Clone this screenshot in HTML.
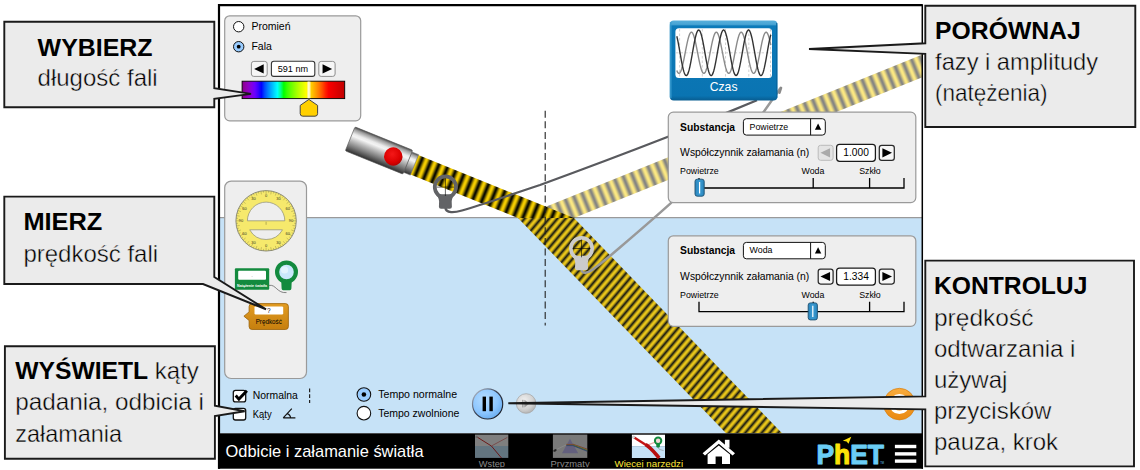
<!DOCTYPE html>
<html lang="pl"><head><meta charset="utf-8"><title>Odbicie i załamanie światła</title>
<style>
html,body{margin:0;padding:0;background:#fff;}
body{width:1140px;height:470px;overflow:hidden;}
svg{display:block;}
text{font-family:"Liberation Sans", sans-serif;}
.b{font-weight:bold;}
.c24{font-size:24px;fill:#000;stroke:#ebebeb;stroke-width:0.42px;}
.c24.b,.c24 .b{stroke:none;fill:#000;}
</style></head><body>
<svg width="1140" height="470" viewBox="0 0 1140 470">
<defs>
<linearGradient id="gi" gradientUnits="userSpaceOnUse" x1="427.021" y1="158.565" x2="435.264" y2="161.895" spreadMethod="repeat"><stop offset="0.0000" stop-color="#f6cf00"/><stop offset="0.0417" stop-color="#f3cc00"/><stop offset="0.0833" stop-color="#e9c400"/><stop offset="0.1250" stop-color="#dab700"/><stop offset="0.1667" stop-color="#c5a600"/><stop offset="0.2083" stop-color="#ac9100"/><stop offset="0.2500" stop-color="#917a00"/><stop offset="0.2917" stop-color="#746200"/><stop offset="0.3333" stop-color="#574a00"/><stop offset="0.3750" stop-color="#3b3300"/><stop offset="0.4167" stop-color="#231f00"/><stop offset="0.4583" stop-color="#111000"/><stop offset="0.5000" stop-color="#080800"/><stop offset="0.5417" stop-color="#111000"/><stop offset="0.5833" stop-color="#231f00"/><stop offset="0.6250" stop-color="#3b3300"/><stop offset="0.6667" stop-color="#574a00"/><stop offset="0.7083" stop-color="#746200"/><stop offset="0.7500" stop-color="#917a00"/><stop offset="0.7917" stop-color="#ac9100"/><stop offset="0.8333" stop-color="#c5a600"/><stop offset="0.8750" stop-color="#dab700"/><stop offset="0.9167" stop-color="#e9c400"/><stop offset="0.9583" stop-color="#f3cc00"/><stop offset="1.0000" stop-color="#f6cf00"/></linearGradient>
<linearGradient id="gr" gradientUnits="userSpaceOnUse" x1="610.521" y1="180.635" x2="618.764" y2="177.305" spreadMethod="repeat"><stop offset="0.0000" stop-color="#f8d000"/><stop offset="0.0417" stop-color="#f4cd00"/><stop offset="0.0833" stop-color="#eac400"/><stop offset="0.1250" stop-color="#d9b600"/><stop offset="0.1667" stop-color="#c3a400"/><stop offset="0.2083" stop-color="#a98e00"/><stop offset="0.2500" stop-color="#8c7600"/><stop offset="0.2917" stop-color="#6e5c00"/><stop offset="0.3333" stop-color="#504300"/><stop offset="0.3750" stop-color="#342d00"/><stop offset="0.4167" stop-color="#1d1900"/><stop offset="0.4583" stop-color="#0d0b00"/><stop offset="0.5000" stop-color="#050500"/><stop offset="0.5417" stop-color="#0d0b00"/><stop offset="0.5833" stop-color="#1d1900"/><stop offset="0.6250" stop-color="#342d00"/><stop offset="0.6667" stop-color="#504300"/><stop offset="0.7083" stop-color="#6e5c00"/><stop offset="0.7500" stop-color="#8c7600"/><stop offset="0.7917" stop-color="#a98e00"/><stop offset="0.8333" stop-color="#c3a400"/><stop offset="0.8750" stop-color="#d9b600"/><stop offset="0.9167" stop-color="#eac400"/><stop offset="0.9583" stop-color="#f4cd00"/><stop offset="1.0000" stop-color="#f8d000"/></linearGradient>
<linearGradient id="gt" gradientUnits="userSpaceOnUse" x1="599.200" y1="271.000" x2="603.982" y2="275.043" spreadMethod="repeat"><stop offset="0.0000" stop-color="#ecc81a"/><stop offset="0.0417" stop-color="#eac61a"/><stop offset="0.0833" stop-color="#e3c11a"/><stop offset="0.1250" stop-color="#d9b819"/><stop offset="0.1667" stop-color="#caac19"/><stop offset="0.2083" stop-color="#b89d18"/><stop offset="0.2500" stop-color="#a38c17"/><stop offset="0.2917" stop-color="#8c7916"/><stop offset="0.3333" stop-color="#746515"/><stop offset="0.3750" stop-color="#5b5014"/><stop offset="0.4167" stop-color="#433c13"/><stop offset="0.4583" stop-color="#2d2a13"/><stop offset="0.5000" stop-color="#1c1c12"/><stop offset="0.5417" stop-color="#2d2a13"/><stop offset="0.5833" stop-color="#433c13"/><stop offset="0.6250" stop-color="#5b5014"/><stop offset="0.6667" stop-color="#746515"/><stop offset="0.7083" stop-color="#8c7916"/><stop offset="0.7500" stop-color="#a38c17"/><stop offset="0.7917" stop-color="#b89d18"/><stop offset="0.8333" stop-color="#caac19"/><stop offset="0.8750" stop-color="#d9b819"/><stop offset="0.9167" stop-color="#e3c11a"/><stop offset="0.9583" stop-color="#eac61a"/><stop offset="1.0000" stop-color="#ecc81a"/></linearGradient>
<linearGradient id="spec" x1="0" x2="1" y1="0" y2="0"><stop offset="0.0000" stop-color="rgb(135,0,135)"/><stop offset="0.0312" stop-color="rgb(144,0,167)"/><stop offset="0.0625" stop-color="rgb(143,0,197)"/><stop offset="0.0938" stop-color="rgb(130,0,227)"/><stop offset="0.1250" stop-color="rgb(106,0,255)"/><stop offset="0.1562" stop-color="rgb(61,0,255)"/><stop offset="0.1875" stop-color="rgb(0,0,255)"/><stop offset="0.2188" stop-color="rgb(0,70,255)"/><stop offset="0.2500" stop-color="rgb(0,123,255)"/><stop offset="0.2812" stop-color="rgb(0,169,255)"/><stop offset="0.3125" stop-color="rgb(0,213,255)"/><stop offset="0.3438" stop-color="rgb(0,255,255)"/><stop offset="0.3750" stop-color="rgb(0,255,146)"/><stop offset="0.4062" stop-color="rgb(0,255,0)"/><stop offset="0.4375" stop-color="rgb(54,255,0)"/><stop offset="0.4688" stop-color="rgb(94,255,0)"/><stop offset="0.5000" stop-color="rgb(129,255,0)"/><stop offset="0.5312" stop-color="rgb(163,255,0)"/><stop offset="0.5625" stop-color="rgb(195,255,0)"/><stop offset="0.5938" stop-color="rgb(225,255,0)"/><stop offset="0.6250" stop-color="rgb(255,255,0)"/><stop offset="0.6562" stop-color="rgb(255,223,0)"/><stop offset="0.6875" stop-color="rgb(255,190,0)"/><stop offset="0.7188" stop-color="rgb(255,155,0)"/><stop offset="0.7500" stop-color="rgb(255,119,0)"/><stop offset="0.7812" stop-color="rgb(255,79,0)"/><stop offset="0.8125" stop-color="rgb(255,33,0)"/><stop offset="0.8438" stop-color="rgb(249,0,0)"/><stop offset="0.8750" stop-color="rgb(238,0,0)"/><stop offset="0.9062" stop-color="rgb(227,0,0)"/><stop offset="0.9375" stop-color="rgb(215,0,0)"/><stop offset="0.9688" stop-color="rgb(204,0,0)"/><stop offset="1.0000" stop-color="rgb(192,0,0)"/></linearGradient>
<linearGradient id="lasb" x1="0" x2="0" y1="0" y2="1">
<stop offset="0" stop-color="#474747"/><stop offset="0.1" stop-color="#9c9c9c"/><stop offset="0.27" stop-color="#eaeaea"/><stop offset="0.36" stop-color="#f4f4f4"/><stop offset="0.52" stop-color="#c2c2c2"/><stop offset="0.76" stop-color="#7c7c7c"/><stop offset="0.93" stop-color="#464646"/><stop offset="1" stop-color="#2e2e2e"/></linearGradient>
<radialGradient id="redb" cx="0.4" cy="0.4" r="0.7"><stop offset="0" stop-color="#f41818"/><stop offset="0.65" stop-color="#dc0000"/><stop offset="1" stop-color="#a80000"/></radialGradient>
<linearGradient id="czas" x1="0" x2="0" y1="0" y2="1"><stop offset="0" stop-color="#58b0dc"/><stop offset="0.05" stop-color="#48a4d4"/><stop offset="0.07" stop-color="#0c7ab9"/><stop offset="0.94" stop-color="#0a74b2"/><stop offset="1" stop-color="#085c90"/></linearGradient>
<linearGradient id="velg" x1="0" x2="0" y1="0" y2="1"><stop offset="0" stop-color="#e29c22"/><stop offset="1" stop-color="#c67f0e"/></linearGradient>
<linearGradient id="resetg" x1="0" x2="0" y1="0" y2="1"><stop offset="0" stop-color="#f9ab3c"/><stop offset="1" stop-color="#ea8a12"/></linearGradient>
<linearGradient id="pstroke" x1="0" x2="1" y1="0" y2="1"><stop offset="0" stop-color="#c8d4e4"/><stop offset="0.45" stop-color="#3a4254"/><stop offset="1" stop-color="#10141c"/></linearGradient>
<radialGradient id="pauseg" cx="0.4" cy="0.35" r="0.75"><stop offset="0" stop-color="#b5dcff"/><stop offset="0.6" stop-color="#8cc6ff"/><stop offset="1" stop-color="#5fa5ea"/></radialGradient>
<radialGradient id="stepg" cx="0.4" cy="0.35" r="0.75"><stop offset="0" stop-color="#f0f0f0"/><stop offset="0.6" stop-color="#d2d2d2"/><stop offset="1" stop-color="#a8a8a8"/></radialGradient>
<linearGradient id="thumbg" x1="0" x2="1" y1="0" y2="0"><stop offset="0" stop-color="#2a86bd"/><stop offset="0.5" stop-color="#3a9ad2"/><stop offset="1" stop-color="#2a86bd"/></linearGradient>
<clipPath id="navclip"><rect x="218" y="433" width="705" height="34.2"/></clipPath>
<clipPath id="simclip"><rect x="219.0" y="5.2" width="703.3" height="428.1"/></clipPath>
</defs>

<rect x="219.0" y="5.2" width="703.3" height="428.1" fill="#fff"/>
<rect x="219.0" y="218.0" width="703.3" height="215.3" fill="#c6e2f7"/>
<line x1="219.0" x2="922.3" y1="217.7" y2="217.7" stroke="#9a9a9a" stroke-width="1.2"/>
<g clip-path="url(#simclip)">
<polygon points="518.00,218.00 574.00,218.00 1130.31,-6.76 1074.31,-6.76" fill="url(#gr)" opacity="0.49"/>
<polygon points="518.00,218.00 574.00,218.00 418.23,155.06 410.37,174.51" fill="url(#gi)"/>
<polygon points="518.00,218.00 574.00,218.00 921.52,577.49 865.52,577.49" fill="url(#gt)"/>
<line x1="545.2" x2="545.2" y1="110.7" y2="325.5" stroke="#222" stroke-width="1.1" stroke-dasharray="7 3.6"/>
<path d="M445.4,207 C445.4,214 455,212.5 462,210.5 C482,205 505,196.5 540,185 C585,168.6 630,151.6 668,136.8 C690,128 730,111.2 757,100.2" fill="none" stroke="#595a5e" stroke-width="2.3"/>
<path d="M581.8,270 C581.8,274.4 588,273 592,270 C599,265 604,261 609,256.8 C641,229.4 701,180 764,111.5 L780.5,88" fill="none" stroke="#999" stroke-width="2.5"/>
<g transform="translate(445.4,187.1)"><path d="M-9.6,7.2 C-7.4,9.6 -6.4,12 -6.3,14.5 L-6.5,19.6 Q-6.5,21.7 -4.4,21.7 L4.4,21.7 Q6.5,21.7 6.5,19.6 L6.3,14.5 C6.4,12 7.4,9.6 9.6,7.2 Z" fill="#626366"/><circle r="10.65" fill="none" stroke="#626366" stroke-width="3.6999999999999993"/><line x1="-8.8" x2="8.8" y1="0" y2="0" stroke="#000" stroke-width="0.6"/><line y1="-8.8" y2="8.8" x1="0" x2="0" stroke="#000" stroke-width="0.6"/></g>
<g transform="translate(581.5,248.5)"><path d="M-9.6,7.2 C-7.4,9.6 -6.4,12 -6.3,14.5 L-6.5,19.6 Q-6.5,21.7 -4.4,21.7 L4.4,21.7 Q6.5,21.7 6.5,19.6 L6.3,14.5 C6.4,12 7.4,9.6 9.6,7.2 Z" fill="#cbcbcb"/><circle r="10.65" fill="none" stroke="#cbcbcb" stroke-width="3.6999999999999993"/><line x1="-8.8" x2="8.8" y1="0" y2="0" stroke="#000" stroke-width="0.6"/><line y1="-8.8" y2="8.8" x1="0" x2="0" stroke="#000" stroke-width="0.6"/></g>
<g transform="translate(414.30,164.79) rotate(22.0)">
<rect x="-7.2" y="-11" width="7.4" height="22" fill="url(#lasb)" stroke="#666" stroke-width="0.5"/>
<rect x="-69.2" y="-12.9" width="62.2" height="25.8" rx="1.2" fill="url(#lasb)" stroke="#555" stroke-width="0.6"/>
<circle cx="-22.6" cy="0.2" r="9.2" fill="url(#redb)"/>
</g>
</g>
<rect x="779" y="86.4" width="2.6" height="7.6" rx="1.3" fill="#8a8a8a" transform="rotate(18 780 90)"/>
<rect x="669.8" y="20.4" width="107.6" height="80.2" rx="4" fill="url(#czas)"/>
<rect x="669.8" y="22" width="1.8" height="76" fill="#3a9cd0" opacity="0.8"/><rect x="776" y="23" width="1.4" height="75" fill="#08649c" opacity="0.8"/>
<rect x="675.4" y="28.3" width="96.6" height="49.7" rx="3.5" fill="#fff"/>
<g stroke="#c8c8c8" stroke-width="0.8" stroke-dasharray="2.5 2">
<line x1="676" x2="772" y1="52.8" y2="52.8"/>
<line x1="679.6" x2="679.6" y1="29" y2="77.5"/>
<line x1="702.3" x2="702.3" y1="29" y2="77.5"/>
<line x1="725.5" x2="725.5" y1="29" y2="77.5"/>
<line x1="748.8" x2="748.8" y1="29" y2="77.5"/>
<line x1="770.5" x2="770.5" y1="29" y2="77.5"/>
</g>
<polyline points="676.80,70.44 677.30,71.64 677.80,72.54 678.30,73.12 678.80,73.39 679.30,73.32 679.80,72.93 680.30,72.22 680.80,71.20 681.30,69.88 681.80,68.30 682.30,66.47 682.80,64.42 683.30,62.19 683.80,59.80 684.30,57.31 684.80,54.75 685.30,52.15 685.80,49.56 686.30,47.03 686.80,44.59 687.30,42.28 687.80,40.13 688.30,38.19 688.80,36.48 689.30,35.03 689.80,33.86 690.30,32.99 690.80,32.44 691.30,32.21 691.80,32.30 692.30,32.73 692.80,33.47 693.30,34.52 693.80,35.86 694.30,37.47 694.80,39.33 695.30,41.40 695.80,43.65 696.30,46.04 696.80,48.54 697.30,51.11 697.80,53.71 698.30,56.29 698.80,58.82 699.30,61.25 699.80,63.55 700.30,65.67 700.80,67.59 701.30,69.28 701.80,70.70 702.30,71.84 702.80,72.68 703.30,73.20 703.80,73.40 704.30,73.27 704.80,72.81 705.30,72.04 705.80,70.96 706.30,69.59 706.80,67.95 707.30,66.07 707.80,63.99 708.30,61.72 708.80,59.31 709.30,56.80 709.80,54.23 710.30,51.63 710.80,49.05 711.30,46.53 711.80,44.11 712.30,41.83 712.80,39.73 713.30,37.83 713.80,36.16 714.30,34.77 714.80,33.66 715.30,32.85 715.80,32.36 716.30,32.20 716.80,32.36 717.30,32.85 717.80,33.66 718.30,34.77 718.80,36.16 719.30,37.83 719.80,39.73 720.30,41.83 720.80,44.11 721.30,46.53 721.80,49.05 722.30,51.63 722.80,54.23 723.30,56.80 723.80,59.31 724.30,61.72 724.80,63.99 725.30,66.07 725.80,67.95 726.30,69.59 726.80,70.96 727.30,72.04 727.80,72.81 728.30,73.27 728.80,73.40 729.30,73.20 729.80,72.68 730.30,71.84 730.80,70.70 731.30,69.28 731.80,67.59 732.30,65.67 732.80,63.55 733.30,61.25 733.80,58.82 734.30,56.29 734.80,53.71 735.30,51.11 735.80,48.54 736.30,46.04 736.80,43.65 737.30,41.40 737.80,39.33 738.30,37.47 738.80,35.86 739.30,34.52 739.80,33.47 740.30,32.73 740.80,32.30 741.30,32.21 741.80,32.44 742.30,32.99 742.80,33.86 743.30,35.03 743.80,36.48 744.30,38.19 744.80,40.13 745.30,42.28 745.80,44.59 746.30,47.03 746.80,49.56 747.30,52.15 747.80,54.75 748.30,57.31 748.80,59.80 749.30,62.19 749.80,64.42 750.30,66.47 750.80,68.30 751.30,69.88 751.80,71.20 752.30,72.22 752.80,72.93 753.30,73.32 753.80,73.39 754.30,73.12 754.80,72.54 755.30,71.64 755.80,70.44 756.30,68.96 756.80,67.23 757.30,65.26 757.80,63.10 758.30,60.77 758.80,58.32 759.30,55.78 759.80,53.19 760.30,50.60 760.80,48.04 761.30,45.55 761.80,43.18 762.30,40.97 762.80,38.94 763.30,37.13 763.80,35.57 764.30,34.29 764.80,33.30 765.30,32.62 765.80,32.26 766.30,32.23 766.80,32.52 767.30,33.14 767.80,34.07 768.30,35.29 768.80,36.80 769.30,38.56 769.80,40.54 770.30,42.73 770.80,45.07" fill="none" stroke="#8a8a8a" stroke-width="1.4" stroke-linejoin="round"/>
<polyline points="676.80,36.23 677.30,38.33 677.80,40.66 678.30,43.19 678.80,45.86 679.30,48.65 679.80,51.51 680.30,54.38 680.80,57.23 681.30,60.01 681.80,62.67 682.30,65.18 682.80,67.49 683.30,69.57 683.80,71.38 684.30,72.90 684.80,74.09 685.30,74.95 685.80,75.45 686.30,75.60 686.80,75.38 687.30,74.80 687.80,73.88 688.30,72.62 688.80,71.04 689.30,69.17 689.80,67.05 690.30,64.69 690.80,62.15 691.30,59.46 691.80,56.66 692.30,53.81 692.80,50.93 693.30,48.09 693.80,45.32 694.30,42.67 694.80,40.18 695.30,37.89 695.80,35.84 696.30,34.05 696.80,32.57 697.30,31.41 697.80,30.59 698.30,30.12 698.80,30.01 699.30,30.26 699.80,30.87 700.30,31.83 700.80,33.13 701.30,34.73 701.80,36.63 702.30,38.78 702.80,41.15 703.30,43.71 703.80,46.41 704.30,49.22 704.80,52.08 705.30,54.95 705.80,57.79 706.30,60.55 706.80,63.19 707.30,65.66 707.80,67.93 708.30,69.95 708.80,71.71 709.30,73.16 709.80,74.29 710.30,75.08 710.80,75.51 711.30,75.58 711.80,75.29 712.30,74.65 712.80,73.65 713.30,72.33 713.80,70.69 714.30,68.77 714.80,66.59 715.30,64.20 715.80,61.62 716.30,58.91 716.80,56.10 717.30,53.23 717.80,50.36 718.30,47.53 718.80,44.78 719.30,42.16 719.80,39.70 720.30,37.46 720.80,35.46 721.30,33.73 721.80,32.31 722.30,31.22 722.80,30.46 723.30,30.07 723.80,30.03 724.30,30.35 724.80,31.04 725.30,32.07 725.80,33.42 726.30,35.09 726.80,37.04 727.30,39.24 727.80,41.65 728.30,44.24 728.80,46.97 729.30,49.79 729.80,52.66 730.30,55.53 730.80,58.35 731.30,61.09 731.80,63.70 732.30,66.13 732.80,68.35 733.30,70.33 733.80,72.02 734.30,73.41 734.80,74.48 735.30,75.19 735.80,75.55 736.30,75.55 736.80,75.19 737.30,74.48 737.80,73.41 738.30,72.02 738.80,70.33 739.30,68.35 739.80,66.13 740.30,63.70 740.80,61.09 741.30,58.35 741.80,55.53 742.30,52.66 742.80,49.79 743.30,46.97 743.80,44.24 744.30,41.65 744.80,39.24 745.30,37.04 745.80,35.09 746.30,33.42 746.80,32.07 747.30,31.04 747.80,30.35 748.30,30.03 748.80,30.07 749.30,30.46 749.80,31.22 750.30,32.31 750.80,33.73 751.30,35.46 751.80,37.46 752.30,39.70 752.80,42.16 753.30,44.78 753.80,47.53 754.30,50.36 754.80,53.23 755.30,56.10 755.80,58.91 756.30,61.62 756.80,64.20 757.30,66.59 757.80,68.77 758.30,70.69 758.80,72.33 759.30,73.65 759.80,74.65 760.30,75.29 760.80,75.58 761.30,75.51 761.80,75.08 762.30,74.29 762.80,73.16 763.30,71.71 763.80,69.95 764.30,67.93 764.80,65.66 765.30,63.19 765.80,60.55 766.30,57.79 766.80,54.95 767.30,52.08 767.80,49.22 768.30,46.41 768.80,43.71 769.30,41.15 769.80,38.78 770.30,36.63 770.80,34.73" fill="none" stroke="#333" stroke-width="1.4" stroke-linejoin="round"/>
<text x="723.6" y="91" font-size="12.2" fill="#fff" text-anchor="middle">Czas</text>
<rect x="224.7" y="15.8" width="136" height="105" rx="5" fill="#eeeeee" stroke="#9a9a9a" stroke-width="1.2"/>
<circle cx="238.7" cy="26.7" r="5.2" fill="#fff" stroke="#111" stroke-width="1"/>
<text x="251.4" y="30" font-size="10.5" fill="#000">Promień</text>
<circle cx="238.7" cy="46.7" r="5.2" fill="#99ccff" stroke="#111" stroke-width="1"/><circle cx="238.7" cy="46.7" r="1.9" fill="#000"/>
<text x="251.4" y="50.3" font-size="10.5" fill="#000">Fala</text>
<rect x="251.4" y="61.4" width="15.8" height="15" rx="2.4" fill="#f6f6f6" stroke="#8e8e8e" stroke-width="1"/><polygon points="254.10,68.90 263.70,64.30 263.70,73.50" fill="#000"/>
<rect x="271.4" y="61.2" width="43.4" height="15.2" rx="2.5" fill="#fff" stroke="#333" stroke-width="1.1"/>
<text x="292.9" y="71.8" font-size="9.1" fill="#000" text-anchor="middle">591 nm</text>
<rect x="318.8" y="61.4" width="16.3" height="15" rx="2.4" fill="#f6f6f6" stroke="#8e8e8e" stroke-width="1"/><polygon points="332.15,68.90 322.55,64.30 322.55,73.50" fill="#000"/>
<rect x="242.1" y="81.2" width="102.6" height="17.4" fill="url(#spec)" stroke="#000" stroke-width="0.9"/>
<rect x="307.2" y="81.6" width="3.4" height="16.6" fill="#fff" opacity="0.55"/><rect x="308.4" y="81.6" width="1" height="16.6" fill="#fff" opacity="0.9"/>
<path d="M308.9,99.4 L317.6,105.4 L317.6,113.6 Q317.6,116.2 315,116.2 L302.8,116.2 Q300.2,116.2 300.2,113.6 L300.2,105.4 Z" fill="#ffd000" stroke="#444" stroke-width="1" stroke-linejoin="round"/>
<rect x="224.7" y="181.1" width="81.8" height="197.4" rx="6.5" fill="#eeeeee" stroke="#9a9a9a" stroke-width="1.2"/>
<circle cx="266.1" cy="220.8" r="30.2" fill="#f6e96c" stroke="#8e8e7a" stroke-width="1"/>
<path d="M247.40000000000003,220.8 A18.7,18.7 0 0 1 284.8,220.8 Z" fill="#eeeeee" stroke="#8c8c70" stroke-width="0.7"/>
<path d="M249.71,229.8 A18.7,18.7 0 0 0 282.49,229.8 Z" fill="#eeeeee" stroke="#8c8c70" stroke-width="0.7"/>
<path d="M292.90,220.80 L296.10,220.80 M294.19,223.26 L295.99,223.41 M292.49,225.45 L295.64,226.01 M293.34,228.10 L295.08,228.56 M291.28,229.97 L294.29,231.06 M291.66,232.72 L293.29,233.48 M289.31,234.20 L292.08,235.80 M289.20,236.97 L290.67,238.01 M286.63,238.03 L289.08,240.08 M286.04,240.74 L287.31,242.01 M283.33,241.33 L285.38,243.78 M282.27,243.90 L283.31,245.37 M279.50,244.01 L281.10,246.78 M278.02,246.36 L278.78,247.99 M275.27,245.98 L276.36,248.99 M273.40,248.04 L273.86,249.78 M270.75,247.19 L271.31,250.34 M268.56,248.89 L268.71,250.69 M266.10,247.60 L266.10,250.80 M263.64,248.89 L263.49,250.69 M261.45,247.19 L260.89,250.34 M258.80,248.04 L258.34,249.78 M256.93,245.98 L255.84,248.99 M254.18,246.36 L253.42,247.99 M252.70,244.01 L251.10,246.78 M249.93,243.90 L248.89,245.37 M248.87,241.33 L246.82,243.78 M246.16,240.74 L244.89,242.01 M245.57,238.03 L243.12,240.08 M243.00,236.97 L241.53,238.01 M242.89,234.20 L240.12,235.80 M240.54,232.72 L238.91,233.48 M240.92,229.97 L237.91,231.06 M238.86,228.10 L237.12,228.56 M239.71,225.45 L236.56,226.01 M238.01,223.26 L236.21,223.41 M239.30,220.80 L236.10,220.80 M238.01,218.34 L236.21,218.19 M239.71,216.15 L236.56,215.59 M238.86,213.50 L237.12,213.04 M240.92,211.63 L237.91,210.54 M240.54,208.88 L238.91,208.12 M242.89,207.40 L240.12,205.80 M243.00,204.63 L241.53,203.59 M245.57,203.57 L243.12,201.52 M246.16,200.86 L244.89,199.59 M248.87,200.27 L246.82,197.82 M249.93,197.70 L248.89,196.23 M252.70,197.59 L251.10,194.82 M254.18,195.24 L253.42,193.61 M256.93,195.62 L255.84,192.61 M258.80,193.56 L258.34,191.82 M261.45,194.41 L260.89,191.26 M263.64,192.71 L263.49,190.91 M266.10,194.00 L266.10,190.80 M268.56,192.71 L268.71,190.91 M270.75,194.41 L271.31,191.26 M273.40,193.56 L273.86,191.82 M275.27,195.62 L276.36,192.61 M278.02,195.24 L278.78,193.61 M279.50,197.59 L281.10,194.82 M282.27,197.70 L283.31,196.23 M283.33,200.27 L285.38,197.82 M286.04,200.86 L287.31,199.59 M286.63,203.57 L289.08,201.52 M289.20,204.63 L290.67,203.59 M289.31,207.40 L292.08,205.80 M291.66,208.88 L293.29,208.12 M291.28,211.63 L294.29,210.54 M293.34,213.50 L295.08,213.04 M292.49,216.15 L295.64,215.59 M294.19,218.34 L295.99,218.19" stroke="#6e6a3a" stroke-width="0.35" fill="none"/>
<text x="291.10" y="222.10" font-size="4" fill="#33331c" text-anchor="middle">90</text>
<text x="287.75" y="234.60" font-size="4" fill="#33331c" text-anchor="middle">60</text>
<text x="278.60" y="243.75" font-size="4" fill="#33331c" text-anchor="middle">30</text>
<text x="266.10" y="247.10" font-size="4" fill="#33331c" text-anchor="middle">0</text>
<text x="253.60" y="243.75" font-size="4" fill="#33331c" text-anchor="middle">30</text>
<text x="244.45" y="234.60" font-size="4" fill="#33331c" text-anchor="middle">60</text>
<text x="241.10" y="222.10" font-size="4" fill="#33331c" text-anchor="middle">90</text>
<text x="244.45" y="209.60" font-size="4" fill="#33331c" text-anchor="middle">60</text>
<text x="253.60" y="200.45" font-size="4" fill="#33331c" text-anchor="middle">30</text>
<text x="266.10" y="197.10" font-size="4" fill="#33331c" text-anchor="middle">0</text>
<text x="278.60" y="200.45" font-size="4" fill="#33331c" text-anchor="middle">30</text>
<text x="287.75" y="209.60" font-size="4" fill="#33331c" text-anchor="middle">60</text>
<line x1="266.1" x2="266.1" y1="221.8" y2="224.8" stroke="#55522a" stroke-width="0.4"/>
<path d="M269,285.4 C276,284 277,293.5 286.5,292.6" fill="none" stroke="#666" stroke-width="0.8"/>
<rect x="234.9" y="268.2" width="34.3" height="21.6" rx="1" fill="#138a3e"/>
<rect x="238.2" y="270.7" width="27.8" height="9" rx="1" fill="#fff"/>
<text x="252" y="276.6" font-size="3.5" fill="#444" text-anchor="middle">-</text>
<text x="252.1" y="287.4" font-size="3.9" class="b" fill="#fff" text-anchor="middle" textLength="30" lengthAdjust="spacingAndGlyphs">Natężenie światła</text>
<path d="M281.2,279.5 L281.6,288.6 Q281.6,290.3 283.3,290.3 L289.7,290.3 Q291.4,290.3 291.4,288.6 L291.8,279.5 Z" fill="#138a3e"/>
<circle cx="286.5" cy="272" r="9.4" fill="#c9e8fb" stroke="#138a3e" stroke-width="4.2"/>
<circle cx="284.6" cy="270" r="3.6" fill="#e9f6fe" opacity="0.8"/>
<path d="M252.1,303.6 L285.4,303.6 Q288.4,303.6 288.4,306.6 L288.4,326.5 Q288.4,329.5 285.4,329.5 L252.1,329.5 Q249.1,329.5 249.1,326.5 L249.1,320.5 L243.9,316.2 L249.1,311.9 L249.1,306.6 Q249.1,303.6 252.1,303.6 Z" fill="url(#velg)" stroke="#9a6208" stroke-width="0.8"/>
<rect x="254.5" y="306.4" width="28.7" height="8" rx="1.2" fill="#fff"/>
<text x="268.8" y="313.2" font-size="6.5" fill="#000" text-anchor="middle">?</text>
<text x="268.8" y="324.4" font-size="6.3" fill="#000" text-anchor="middle">Prędkość</text>
<rect x="233.3" y="390.3" width="12.4" height="11.6" rx="2.2" fill="#fff" stroke="#111" stroke-width="1.3"/><path d="M235.70000000000002,395.5 L238.9,399.1 L246.9,390.7" fill="none" stroke="#000" stroke-width="2.9"/>
<text x="252.8" y="398.8" font-size="10.4" fill="#000">Normalna</text>
<line x1="309.6" x2="309.6" y1="388.5" y2="403" stroke="#222" stroke-width="1.2" stroke-dasharray="3.8 1.9"/>
<rect x="233.3" y="408.4" width="12.4" height="11.6" rx="2.2" fill="#fff" stroke="#111" stroke-width="1.3"/>
<text x="252.8" y="418.2" font-size="10.2" fill="#000" textLength="18.8" lengthAdjust="spacingAndGlyphs">Kąty</text>
<path d="M283.2,417.9 L291.8,408.6 M283.2,417.9 L295.4,417.9 M287,413.6 Q290.4,414.6 290.6,417.9" fill="none" stroke="#111" stroke-width="1.15"/>
<circle cx="363.9" cy="394.5" r="6.8" fill="#99ccff" stroke="#111" stroke-width="1.1"/><circle cx="363.9" cy="394.5" r="2.3" fill="#000"/>
<text x="378.2" y="398.2" font-size="10.6" fill="#000">Tempo normalne</text>
<circle cx="363.9" cy="413.2" r="6.8" fill="#fff" stroke="#111" stroke-width="1.1"/>
<text x="378.2" y="416.9" font-size="10.5" fill="#000">Tempo zwolnione</text>
<circle cx="487.6" cy="403.9" r="15.1" fill="url(#pauseg)" stroke="url(#pstroke)" stroke-width="1.2"/>
<rect x="482.6" y="396.6" width="3.4" height="14.6" fill="#000"/><rect x="489.4" y="396.6" width="3.4" height="14.6" fill="#000"/>
<circle cx="526.1" cy="403.5" r="9.8" fill="url(#stepg)" stroke="#a8a8a8" stroke-width="0.8"/>
<rect x="522.2" y="399.8" width="1.3" height="7.6" fill="#9a9a9a"/><polygon points="524.4,399.8 529.6,403.6 524.4,407.4" fill="#9a9a9a"/>
<circle cx="899.4" cy="404.1" r="15.8" fill="url(#resetg)" stroke="#d67d10" stroke-width="0.7"/>
<circle cx="899.4" cy="404.1" r="8.2" fill="none" stroke="#fff" stroke-width="3.6"/>
<rect x="668.3" y="112.1" width="247.5" height="90.5" rx="5" fill="#eeeeee" stroke="#9a9a9a" stroke-width="1.2"/><text x="680.1" y="130.6" font-size="10.3" class="b" fill="#000">Substancja</text><rect x="743.4" y="118.7" width="81.9" height="16.4" rx="3" fill="#fff" stroke="#111" stroke-width="1"/><line x1="810.6" x2="810.6" y1="118.7" y2="135.1" stroke="#111" stroke-width="1"/><text x="749.6" y="129.6" font-size="8.8" fill="#000">Powietrze</text><polygon points="818.1,123.6 821.3,129.8 814.9,129.8" fill="#000"/><text x="680.1" y="156" font-size="10.4" fill="#000" textLength="129.2" lengthAdjust="spacingAndGlyphs">Współczynnik załamania (n)</text><rect x="818.2" y="145.3" width="14.9" height="15" rx="2.4" fill="#e4e4e4" stroke="#bbbbbb" stroke-width="1"/><polygon points="820.45,152.80 830.05,148.20 830.05,157.40" fill="#aaa"/><rect x="836.6" y="144.3" width="38.8" height="17" rx="3" fill="#fff" stroke="#1a1a1a" stroke-width="1.25"/><text x="856.1" y="156" font-size="10.2" fill="#000" text-anchor="middle">1.000</text><rect x="879.3" y="145.3" width="15" height="15" rx="2.4" fill="#f6f6f6" stroke="#2a2a2a" stroke-width="1.25"/><polygon points="892.00,152.80 882.40,148.20 882.40,157.40" fill="#000"/><text x="680.1" y="174.2" font-size="8.8" fill="#000">Powietrze</text><text x="812.9" y="174.2" font-size="8.8" fill="#000" text-anchor="middle">Woda</text><text x="869.9" y="174.2" font-size="8.8" fill="#000" text-anchor="middle">Szkło</text><path d="M699,178 V188 H904 V178 M813.2,178 V188 M869.6,178 V188" fill="none" stroke="#000" stroke-width="1.3"/><rect x="695.0" y="179.2" width="9.2" height="17" rx="2.2" fill="url(#thumbg)" stroke="#1c4f70" stroke-width="0.9"/><line x1="699.6" x2="699.6" y1="182" y2="193.4" stroke="#fff" stroke-width="1.2"/>
<rect x="668.3" y="235.8" width="247.5" height="90.5" rx="5" fill="#eeeeee" stroke="#9a9a9a" stroke-width="1.2"/><text x="680.1" y="254.3" font-size="10.3" class="b" fill="#000">Substancja</text><rect x="743.4" y="242.4" width="81.9" height="16.4" rx="3" fill="#fff" stroke="#111" stroke-width="1"/><line x1="810.6" x2="810.6" y1="242.4" y2="258.8" stroke="#111" stroke-width="1"/><text x="749.6" y="253.3" font-size="8.8" fill="#000">Woda</text><polygon points="818.1,247.3 821.3,253.5 814.9,253.5" fill="#000"/><text x="680.1" y="279.7" font-size="10.4" fill="#000" textLength="129.2" lengthAdjust="spacingAndGlyphs">Współczynnik załamania (n)</text><rect x="818.2" y="269.0" width="14.9" height="15" rx="2.4" fill="#f6f6f6" stroke="#2a2a2a" stroke-width="1.25"/><polygon points="820.45,276.50 830.05,271.90 830.05,281.10" fill="#000"/><rect x="836.6" y="268.0" width="38.8" height="17" rx="3" fill="#fff" stroke="#1a1a1a" stroke-width="1.25"/><text x="856.1" y="279.7" font-size="10.2" fill="#000" text-anchor="middle">1.334</text><rect x="879.3" y="269.0" width="15" height="15" rx="2.4" fill="#f6f6f6" stroke="#2a2a2a" stroke-width="1.25"/><polygon points="892.00,276.50 882.40,271.90 882.40,281.10" fill="#000"/><text x="680.1" y="297.9" font-size="8.8" fill="#000">Powietrze</text><text x="812.9" y="297.9" font-size="8.8" fill="#000" text-anchor="middle">Woda</text><text x="869.9" y="297.9" font-size="8.8" fill="#000" text-anchor="middle">Szkło</text><path d="M699,301.7 V311.7 H904 V301.7 M813.2,301.7 V311.7 M869.6,301.7 V311.7" fill="none" stroke="#000" stroke-width="1.3"/><rect x="808.1999999999999" y="302.9" width="9.2" height="17" rx="2.2" fill="url(#thumbg)" stroke="#1c4f70" stroke-width="0.9"/><line x1="812.8" x2="812.8" y1="305.7" y2="317.1" stroke="#fff" stroke-width="1.2"/>
<rect x="218" y="433.3" width="705" height="35.4" fill="#000"/>
<text x="225.6" y="457.1" font-size="16.4" fill="#fff" textLength="198" lengthAdjust="spacingAndGlyphs">Odbicie i załamanie światła</text>
<g opacity="0.55"><rect x="475" y="434.6" width="33.3" height="11.4" fill="#e8e8e8"/><rect x="475" y="446" width="33.3" height="11.9" fill="#b5d5ea"/><path d="M476.7,436.8 L491.4,446 L501.5,458" stroke="#c01818" stroke-width="0.9" fill="none"/><path d="M491.4,446 L507.4,437.4" stroke="#d05050" stroke-width="0.6" fill="none"/><circle cx="476.6" cy="436.9" r="1.2" fill="#bbb"/></g>
<g clip-path="url(#navclip)">
<text x="491.9" y="466.9" font-size="9.3" fill="#8a8a8a" text-anchor="middle" textLength="26.2" lengthAdjust="spacingAndGlyphs">Wstęp</text>
<g opacity="0.55"><rect x="552.9" y="434.6" width="34.4" height="23.3" fill="#dcdcdc"/><path d="M554.8,450.3 L566.3,444.8" stroke="#fafafa" stroke-width="0.9"/><ellipse cx="555" cy="450.4" rx="1.8" ry="1.1" fill="#444" transform="rotate(-26 555 450.4)"/><polygon points="570,438.8 578.2,453.3 562,453.3" fill="#b4b0e6"/><path d="M566.3,444.4 L573.4,444.4" stroke="#e04020" stroke-width="0.6"/><path d="M566.3,445 L573.2,445" stroke="#e8c020" stroke-width="0.6"/><path d="M566.3,445.6 L573,445.6" stroke="#2060c0" stroke-width="0.6"/><path d="M573.2,444.3 L587.3,449.2" stroke="#e03020" stroke-width="0.6"/><path d="M573.2,444.8 L587.3,449.9" stroke="#f0d020" stroke-width="0.6"/><path d="M573.2,445.3 L587.3,450.6" stroke="#30a040" stroke-width="0.6"/><path d="M573.2,445.8 L587.3,451.3" stroke="#3050d0" stroke-width="0.6"/></g>
<text x="570.1" y="466.9" font-size="9.3" fill="#8a8a8a" text-anchor="middle" textLength="39" lengthAdjust="spacingAndGlyphs">Pryzmaty</text>
<rect x="631.9" y="434.7" width="33.1" height="11.4" fill="#fff"/><rect x="631.9" y="446.1" width="33.1" height="11.9" fill="#c6e2f7"/><path d="M634.2,437.6 L646.8,445.4" stroke="#c41414" stroke-width="2.4" fill="none"/><path d="M646.8,445.4 L655.9,441.9" stroke="#eab0b0" stroke-width="1.2" fill="none"/><path d="M645.6,444.6 C651,448 654,452 659.2,458" stroke="#b81010" stroke-width="3.6" fill="none"/><circle cx="633.6" cy="437.2" r="1.2" fill="#ddd" stroke="#999" stroke-width="0.4"/><path d="M658.1,447 C658.4,450 661,449.6 663.6,450.6" stroke="#888" stroke-width="0.6" fill="none"/><rect x="656.3" y="443.6" width="3.6" height="3.8" rx="0.8" fill="#138a3e"/><circle cx="658.1" cy="440.8" r="3.2" fill="#f6d8d8" stroke="#138a3e" stroke-width="2"/>
<text x="648.8" y="466.8" font-size="9.4" fill="#ffe83a" text-anchor="middle" textLength="68.5" lengthAdjust="spacingAndGlyphs">Więcej narzędzi</text>
</g>
<path d="M718.8,439.6 L735,453.2 L732.6,455.4 L718.8,443.8 L705,455.4 L702.6,453.2 Z" fill="#fff"/><path d="M707.6,454.6 L718.8,445.4 L730,454.6 L730,463.9 L722,463.9 L722,456.6 L715.6,456.6 L715.6,463.9 L707.6,463.9 Z" fill="#fff"/><rect x="724.9" y="439.8" width="4.6" height="8" fill="#fff"/>
<text x="816.4" y="463.6" font-size="28.2" class="b" stroke-linejoin="round" textLength="67.6" lengthAdjust="spacingAndGlyphs"><tspan fill="#6acdf5" stroke="#6acdf5" stroke-width="1.1">P</tspan><tspan fill="#fee108" stroke="#fee108" stroke-width="1.1">h</tspan><tspan fill="#6acdf5" stroke="#6acdf5" stroke-width="1.1">ET</tspan></text>
<polygon points="842.8,440.8 851.3,436.8 848.5,443.7 846.6,441.4" fill="#fee108"/>
<text x="880.2" y="464" font-size="2.6" fill="#6acdf5">TM</text>
<rect x="894.9" y="444.8" width="21.4" height="3.4" fill="#fff"/>
<rect x="894.9" y="452.2" width="21.4" height="3.4" fill="#fff"/>
<rect x="894.9" y="459.4" width="21.4" height="3.4" fill="#fff"/>
<path d="M219,468.7 V5.2 H922.3" fill="none" stroke="#000" stroke-width="2.2" stroke-linejoin="miter"/>
<line x1="922.3" x2="922.3" y1="4.3" y2="468.7" stroke="#000" stroke-width="1.5"/>
<polygon points="4.3,21.7 214.3,21.7 214.3,88.3 251,93.9 214.3,98.8 214.3,107.3 4.3,107.3" fill="#ebebeb" stroke="#1a1a1a" stroke-width="1.9" stroke-linejoin="miter"/>
<text x="37.6" y="55.8" class="c24 b" textLength="115" lengthAdjust="spacingAndGlyphs">WYBIERZ</text>
<text x="37.6" y="86.2" class="c24">długość fali</text>
<polygon points="4.3,196.6 214.3,196.6 214.3,277 266,309.4 203,284 4.3,284" fill="#ebebeb" stroke="#1a1a1a" stroke-width="1.9" stroke-linejoin="miter"/>
<text x="23.4" y="229.8" class="c24 b" textLength="79" lengthAdjust="spacingAndGlyphs">MIERZ</text>
<text x="23.4" y="261.9" class="c24">prędkość fali</text>
<polygon points="4.9,346.3 214.9,346.3 214.9,405.6 244.7,411.3 214.9,416 214.9,458.8 4.9,458.8" fill="#ebebeb" stroke="#1a1a1a" stroke-width="1.9" stroke-linejoin="miter"/>
<text x="15.2" y="378.9" class="c24"><tspan class="b" textLength="133" lengthAdjust="spacingAndGlyphs">WYŚWIETL</tspan> kąty</text>
<text x="15.2" y="410.3" class="c24" textLength="188.8" lengthAdjust="spacingAndGlyphs">padania, odbicia i</text>
<text x="15.2" y="442" class="c24" textLength="106.8" lengthAdjust="spacingAndGlyphs">załamania</text>
<polygon points="925.3,5.8 1135.3,5.8 1135.3,127 925.3,127 925.3,53.8 809,49 925.3,43.3" fill="#ebebeb" stroke="#1a1a1a" stroke-width="1.9" stroke-linejoin="miter"/>
<text x="935.1" y="38.7" class="c24 b" textLength="145.6" lengthAdjust="spacingAndGlyphs">PORÓWNAJ</text>
<text x="935.1" y="70" class="c24" textLength="163" lengthAdjust="spacingAndGlyphs">fazy i amplitudy</text>
<text x="935.1" y="100.7" class="c24" textLength="112.5" lengthAdjust="spacingAndGlyphs">(natężenia)</text>
<polygon points="925.3,260.6 1134,260.6 1134,466.4 925.3,466.4 925.3,409.4 508.3,403.2 925.3,396.4" fill="#ebebeb" stroke="#1a1a1a" stroke-width="1.9" stroke-linejoin="miter"/>
<text x="934" y="294.4" class="c24 b" textLength="153.4" lengthAdjust="spacingAndGlyphs">KONTROLUJ</text>
<text x="934" y="325.8" class="c24" textLength="99.4" lengthAdjust="spacingAndGlyphs">prędkość</text>
<text x="934" y="356.9" class="c24">odtwarzania i</text>
<text x="934" y="388.1" class="c24">używaj</text>
<text x="934" y="419.2" class="c24">przycisków</text>
<text x="934" y="450.4" class="c24">pauza, krok</text>
</svg></body></html>
